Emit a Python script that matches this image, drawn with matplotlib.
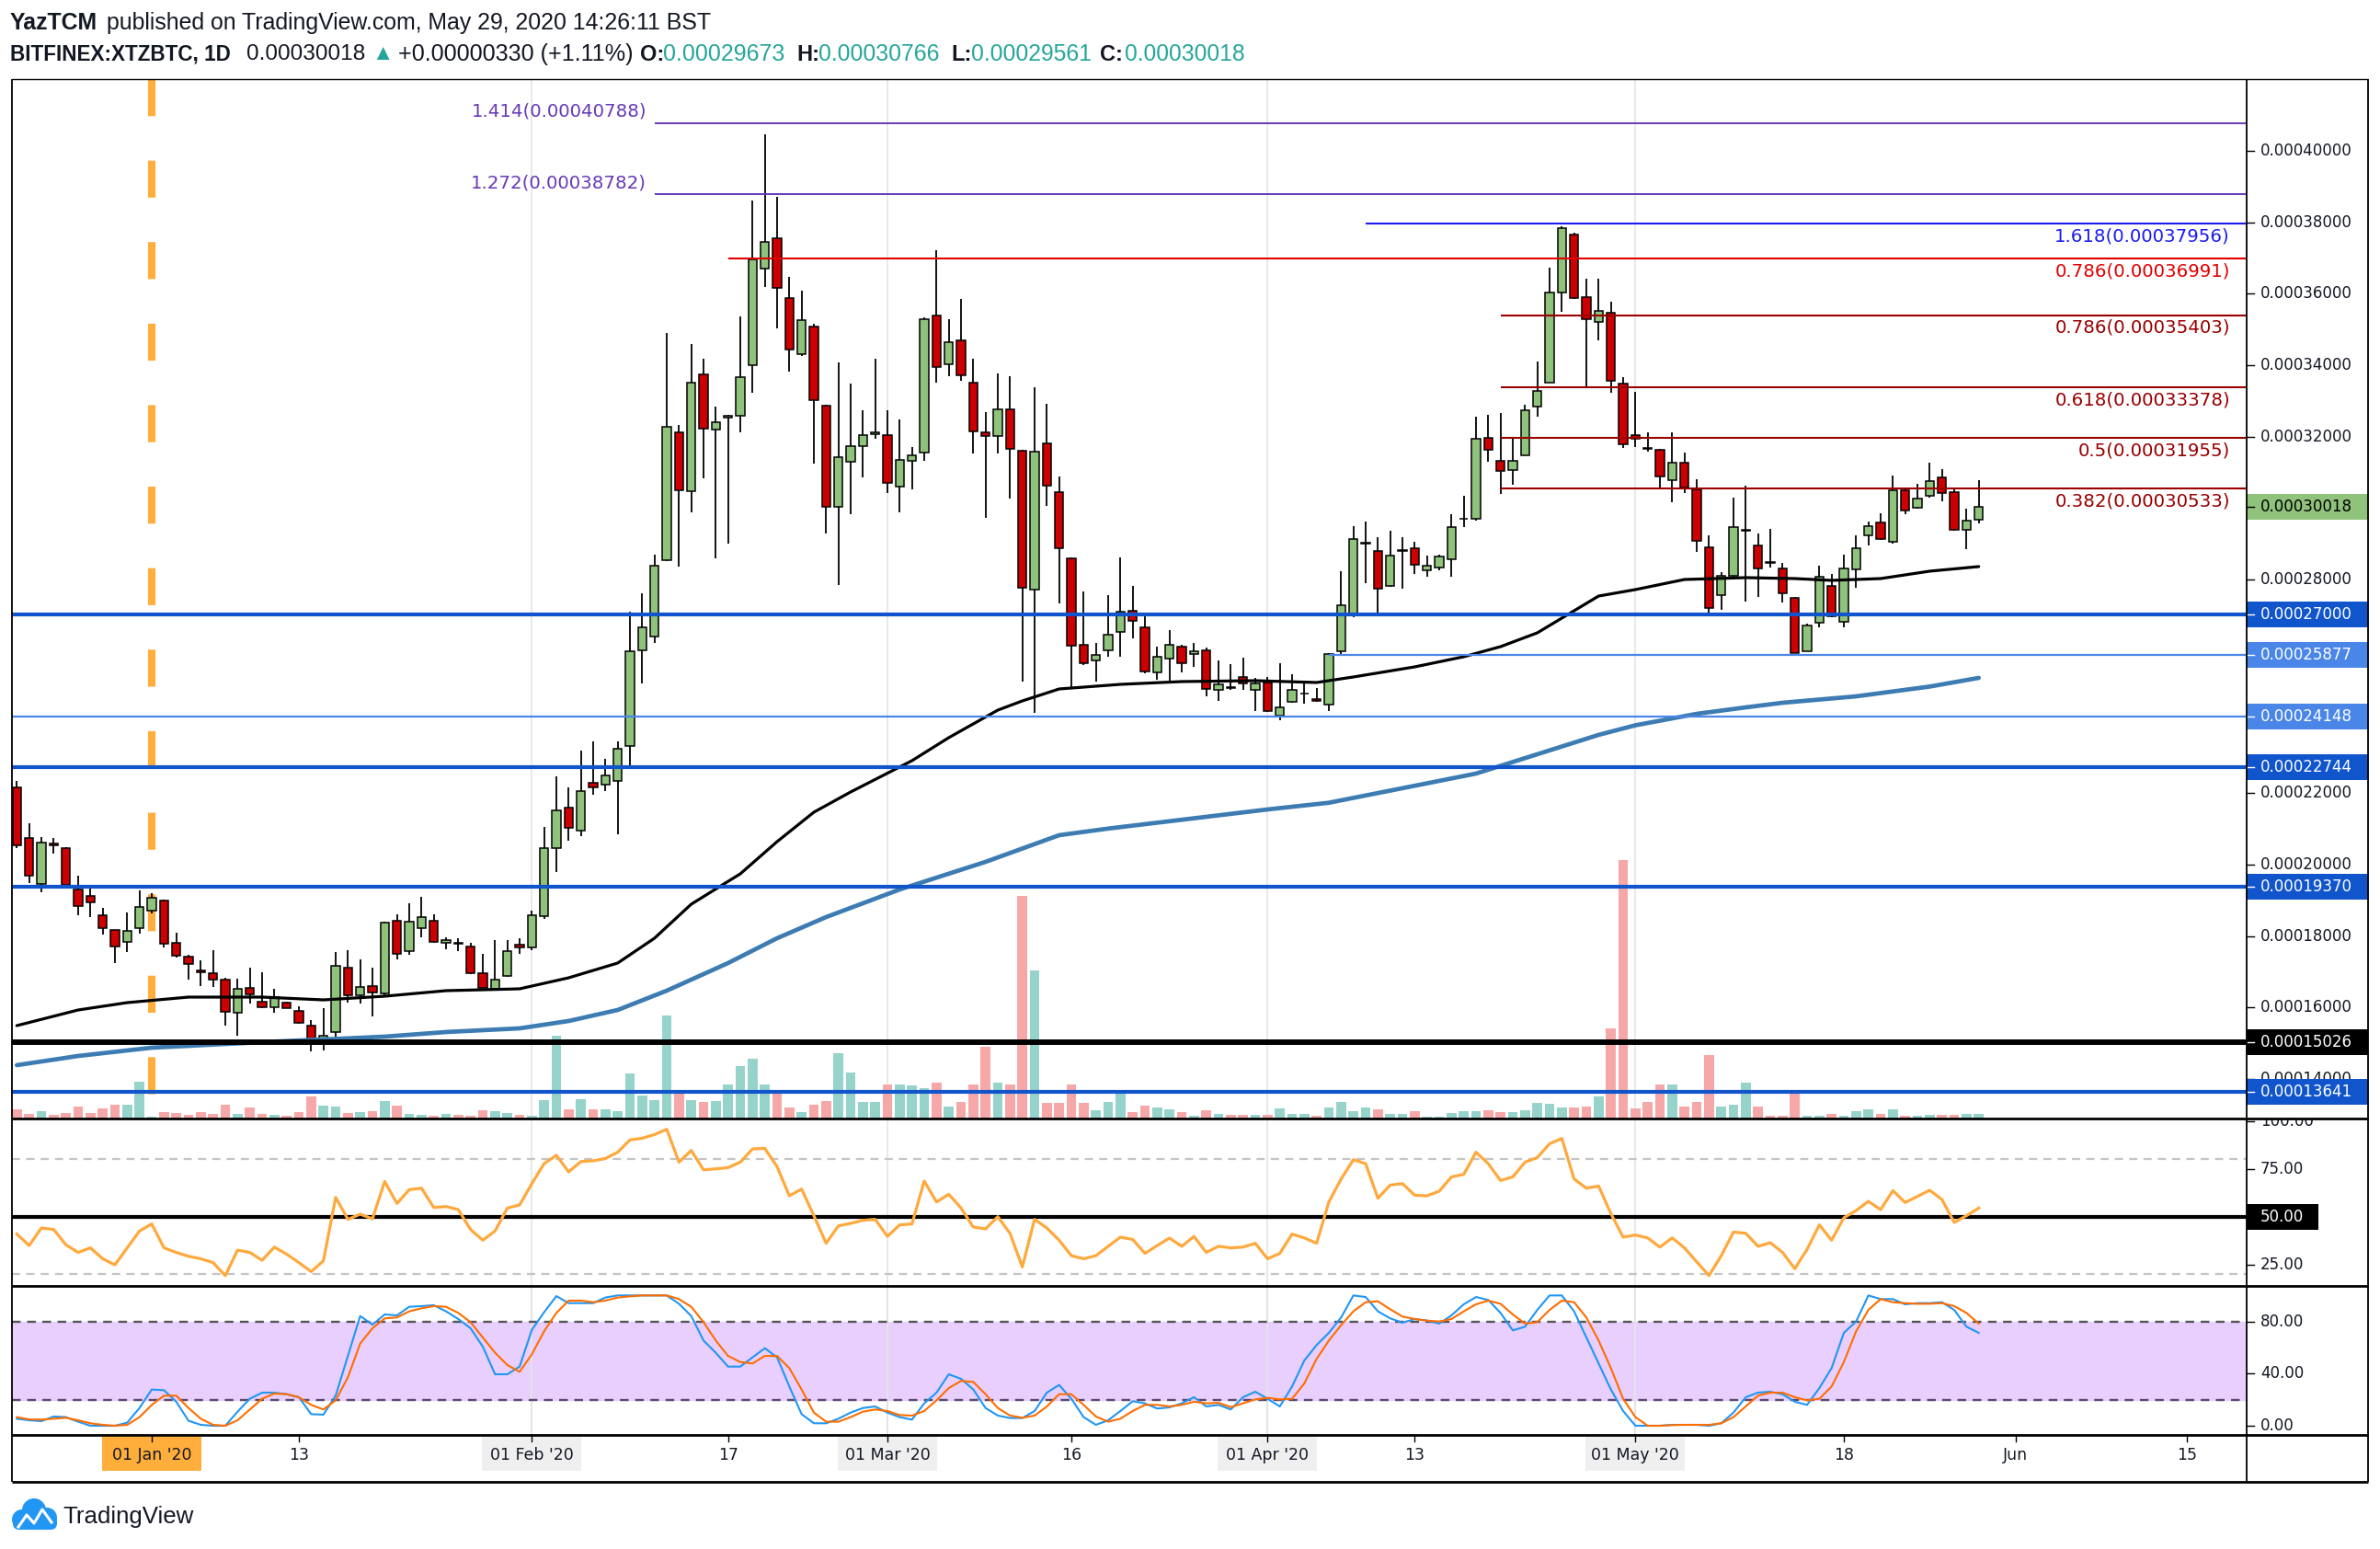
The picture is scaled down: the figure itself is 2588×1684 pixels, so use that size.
import numpy as np
import pandas as pd
import matplotlib
matplotlib.use("Agg")
import matplotlib.pyplot as plt
from matplotlib.patches import Rectangle, Circle, FancyBboxPatch

W, H = 2588, 1684
fig = plt.figure(figsize=(W / 100, H / 100), dpi=100)
plt.rcParams['font.family'] = ['DejaVu Sans']

# ---------------- data (prices in satoshi, 1e-8 BTC) ----------------
dates = pd.date_range("2019-12-21", "2020-05-29", freq="D")

open_s = [22171, 20759, 19449, 20605, 20476, 19304, 19124, 18577, 18166, 17824, 18209, 18705,
          19004, 17806, 17422, 17028, 16968, 16780, 15839, 16557, 16155, 16010,
          16138, 15898, 15496, 15068, 15316, 17113, 16352, 16609, 16386, 18423,
          17584, 18234, 18423, 17806, 17806, 17712, 16968, 16523, 16882, 17765,
          17680, 18564, 20471, 21598, 20948, 22292, 22248, 22350, 23332, 26006,
          26396, 28535, 32119, 30456, 33736, 32190, 32523, 32581, 33997, 36699,
          37566, 35875, 34315, 35080, 32869, 30023, 31280, 31742, 32060, 32046,
          30586, 31309, 31540, 35398, 34026, 34705, 33520, 32119, 32003, 32771,
          31596, 27704, 31820, 30444, 28577, 26172, 25725, 26004, 26530, 27112,
          26642, 25378, 25781, 26116, 25892, 26004, 24908, 24975, 25266, 24886,
          25110, 24181, 24573, 24785, 24640, 24495, 25971, 27000, 29002, 28800,
          27816, 28789, 28879, 28241, 28320, 28565, 29684, 29695, 31954, 31327,
          31070, 31484, 32828, 33519, 36023, 37652, 35903, 35222, 35470, 33473,
          32046, 31668, 31622, 30775, 31254, 30517, 28888, 27553, 28105, 29357,
          28934, 28473, 28289, 27488, 25988, 26770, 27810, 26816, 28271, 29228,
          29596, 29044, 30499, 29993, 30333, 30849, 30434, 29375, 29673]

high_s = [22359, 21161, 20776, 20750, 20493, 19689, 19432, 18791, 18180, 18662, 19278, 19193,
          19021, 18080, 17464, 17310, 17593, 16840, 16797, 17122, 16994, 16514,
          16155, 16027, 15642, 15984, 17541, 17610, 17353, 17122, 18400, 18619,
          18927, 19107, 18619, 17969, 17935, 17798, 17498, 17892, 17892, 17950,
          18700, 21064, 22465, 22176, 23188, 23448, 22971, 23448, 27089, 27595,
          28679, 34892, 32335, 34603, 34170, 32826, 32610, 35355, 38621, 40470,
          38722, 36482, 36092, 35153, 32900, 34069, 33491, 32725, 34170, 32725,
          32465, 31714, 35350, 37233, 35297, 35861, 34170, 32696, 33765, 33688,
          31620, 33386, 32927, 30892, 28600, 27648, 26217, 27559, 28621, 27816,
          27000, 26116, 26564, 26172, 26217, 26083, 25714, 25613, 25803, 25244,
          25266, 25635, 25333, 25110, 24942, 25920, 28230, 29494, 29628, 29181,
          29360, 29181, 29046, 28655, 28677, 29829, 30333, 32547, 32603, 32662,
          31926, 32893, 34089, 36741, 37880, 37700, 36410, 36410, 35765, 33675,
          33240, 32128, 31650, 32128, 31558, 30803, 29228, 28197, 30287, 30609,
          29274, 29421, 28455, 27510, 26752, 28381, 28151, 28676, 29237, 29624,
          29836, 30913, 30520, 30683, 31263, 31095, 30572, 29965, 30766]

low_s = [20476, 19475, 19218, 20322, 19407, 18577, 18534, 18038, 17242, 17550, 18063, 18637,
         17678, 17396, 16780, 16600, 16566, 15496, 15214, 16112, 15984, 15855,
         15967, 15530, 14760, 14786, 15128, 16138, 16095, 15753, 16326, 17353,
         17481, 17969, 17806, 17635, 17567, 16925, 16540, 16497, 16865, 17500,
         17600, 18492, 19792, 20659, 20803, 21960, 22061, 20847, 22783, 25066,
         26223, 28506, 28361, 29864, 30818, 28578, 28997, 32119, 33231, 36193,
         35037, 33809, 34250, 31237, 29286, 27841, 29835, 30847, 31930, 30413,
         29864, 30529, 31323, 33520, 33693, 33549, 31526, 29720, 31526, 30254,
         25132, 24260, 30053, 27313, 24942, 25600, 25132, 25826, 25826, 26340,
         25355, 25188, 25132, 25378, 25546, 24718, 24595, 24908, 24886, 24293,
         24270, 24047, 24550, 24517, 24573, 24315, 25892, 26944, 27895, 27056,
         27783, 27727, 28152, 28073, 28241, 28073, 29460, 29650, 31283, 30379,
         30655, 31465, 32552, 33500, 35489, 35860, 33380, 34688, 33215, 31677,
         31696, 31576, 30572, 30149, 30407, 28768, 27065, 27139, 28059, 27368,
         27507, 28335, 27341, 25920, 25970, 26650, 26930, 26650, 27755, 28952,
         29090, 28998, 29827, 29970, 30296, 30177, 29370, 28842, 29561]

close_s = [20545, 19689, 20630, 20536, 19432, 18850, 18953, 18209, 17695, 18149, 18808, 19064,
           17781, 17439, 17207, 16985, 16771, 15873, 16523, 16369, 16010, 16283,
           15984, 15556, 15068, 15214, 17165, 16352, 16583, 16429, 18380, 17498,
           18405, 18525, 17824, 17884, 17772, 16951, 16557, 16780, 17584, 17680,
           18582, 20471, 21526, 21020, 22061, 22176, 22494, 23246, 25977, 26656,
           28390, 32263, 30485, 33520, 32219, 32407, 32581, 33664, 36959, 37465,
           36164, 34430, 35254, 33014, 30023, 31425, 31742, 32031, 32104, 30702,
           31352, 31468, 35297, 33953, 34647, 33708, 32147, 32003, 32766, 31641,
           27760, 31585, 30612, 28856, 26138, 25635, 25882, 26452, 27089, 26832,
           25411, 25826, 26172, 25635, 25993, 24931, 25054, 24953, 25076, 25076,
           24293, 24405, 24908, 24808, 24595, 25892, 27279, 29136, 29024, 27727,
           28655, 28811, 28398, 28375, 28633, 29471, 29706, 31932, 31619, 31024,
           31309, 32727, 33279, 36023, 37836, 35885, 35286, 35516, 33565, 31769,
           31926, 31650, 30867, 31254, 30572, 29071, 27184, 28087, 29458, 29375,
           28289, 28455, 27599, 25942, 26697, 28077, 26954, 28289, 28860, 29486,
           29118, 30499, 29919, 30269, 30757, 30407, 29394, 29652, 30018]

volume = [30, 15, 23, 12, 18, 38, 18, 33, 45, 45, 120, 7,
          20, 17, 12, 20, 15, 45, 15, 35, 15, 12,
          8, 20, 72, 42, 40, 18, 22, 25, 58, 42,
          15, 13, 8, 15, 12, 10, 27, 25, 17, 12,
          8, 60, 270, 30, 63, 30, 30, 25, 147, 75,
          60, 337, 93, 60, 55, 57, 110, 172, 195, 111,
          80, 35, 20, 45, 57, 213, 150, 55, 55, 110,
          110, 108, 100, 117, 40, 55, 110, 235, 117, 110,
          727, 483, 50, 50, 112, 50, 27, 53, 93, 20,
          43, 37, 30, 22, 10, 27, 15, 12, 12, 12,
          12, 33, 15, 15, 8, 37, 55, 25, 37, 30,
          15, 15, 25, 7, 7, 17, 23, 23, 27, 20,
          20, 27, 50, 48, 35, 37, 40, 73, 293, 843,
          33, 55, 111, 110, 40, 55, 207, 40, 45, 117,
          40, 10, 10, 93, 10, 10, 15, 10, 23, 30,
          15, 30, 10, 10, 13, 13, 13, 15, 15]

rsi = [40.9, 34.9, 44.1, 43.3, 35.3, 31.3, 33.7, 28.0, 24.8, 33.7, 42.5, 46.2,
       33.7, 31.3, 29.3, 28.0, 26.0, 19.2, 32.5, 31.3, 27.2, 34.1,
       30.4, 26.0, 21.3, 26.9, 60.1, 48.6, 51.3, 48.9, 68.4, 56.9,
       64.1, 64.9, 54.8, 55.3, 53.7, 43.3, 37.7, 42.5, 54.5, 56.1,
       67.3, 77.7, 82.1, 73.4, 78.8, 79.2, 80.4, 83.7, 90.1, 91.0,
       92.9, 95.7, 78.5, 84.6, 74.5, 75.0, 75.6, 78.5, 85.4, 85.7,
       76.1, 60.9, 64.4, 50.5, 36.1, 45.2, 46.5, 48.1, 48.6, 39.7,
       45.7, 46.2, 68.6, 57.7, 61.7, 54.5, 44.6, 43.6, 50.0, 41.2,
       23.7, 48.6, 44.1, 37.7, 29.6, 28.0, 29.6, 34.5, 39.3, 38.1,
       30.8, 34.9, 38.8, 34.5, 39.7, 31.3, 34.5, 33.7, 34.1, 36.1,
       28.0, 30.8, 40.9, 38.9, 36.1, 57.7, 69.7, 79.8, 77.7, 59.6,
       66.5, 67.3, 61.2, 60.9, 63.3, 70.8, 72.1, 83.7, 77.7, 68.9,
       70.8, 78.5, 80.9, 88.1, 90.9, 69.7, 64.9, 66.0, 51.6, 39.3,
       40.4, 38.9, 34.1, 38.9, 33.7, 26.4, 19.2, 29.6, 42.0, 41.3,
       34.5, 36.4, 31.3, 22.8, 32.9, 45.7, 37.7, 49.4, 53.2, 58.0,
       53.7, 63.6, 57.4, 60.6, 63.8, 59.0, 47.0, 50.5, 54.5]

stoch_k = [5.4, 4.2, 3.5, 7.1, 6.6, 3.1, 0, 0, 0, 2.4, 13.6, 27.8,
           27.3, 18.4, 3.8, 0.7, 0, 0, 10.8, 20.7, 25.4, 25.4,
           24.2, 21.9, 8.9, 8.5, 23.1, 53.6, 84.2, 77.6, 85.4, 84.7,
           91.3, 91.8, 92.5, 87.8, 81.9, 74.8, 60.7, 39.5, 39.5, 45.4,
           73.6, 87.1, 99.5, 94.1, 94.1, 94.1, 98.4, 100, 100, 100,
           100, 100, 93.6, 84.2, 65.4, 56.0, 45.4, 45.4, 52.5, 59.5,
           52.5, 30.1, 8.9, 1.9, 1.9, 5.4, 10.1, 13.6, 14.8, 10.1,
           6.6, 4.7, 17.2, 25.4, 39.5, 36.0, 27.8, 13.6, 7.8, 5.9,
           5.9, 11.3, 25.4, 31.3, 20.7, 6.6, 0.7, 4.2, 11.3, 18.8,
           17.2, 13.2, 14.1, 17.2, 21.9, 14.8, 16.0, 12.5, 21.9, 26.1,
           20.7, 14.8, 30.1, 50.1, 61.9, 71.3, 83.1, 100, 98.8, 87.8,
           82.4, 79.1, 81.9, 80.7, 78.4, 84.7, 93.2, 98.8, 96.5, 86.6,
           73.2, 76.0, 88.9, 100, 100, 87.8, 67.8, 47.8, 27.8, 11.3,
           0, 0, 0, 0.7, 0.7, 0.7, 0, 1.9, 10.1, 21.9,
           25.4, 26.1, 24.2, 18.4, 16.0, 28.9, 44.2, 71.3, 80.0, 100,
           97.2, 97.2, 93.2, 94.1, 94.1, 94.8, 88.9, 76.0, 71.3]

stoch_d = [6.6, 4.9, 4.7, 5.4, 6.1, 4.2, 1.9, 0.7, 0, 0.7, 6.6, 16.0,
           23.1, 23.1, 13.6, 5.4, 0.7, 0, 4.2, 12.5, 20.7, 24.7,
           24.2, 21.9, 16.0, 12.5, 19.5, 37.2, 63.1, 74.8, 82.4, 83.1,
           87.8, 90.1, 91.8, 91.3, 86.6, 79.5, 67.8, 56.0, 46.6, 41.4,
           54.8, 72.5, 86.6, 96.0, 96.0, 94.8, 96.0, 98.4, 99.3, 100,
           100, 100, 97.2, 91.3, 79.5, 65.4, 53.6, 48.9, 47.8, 53.6,
           53.6, 44.2, 27.8, 10.1, 3.1, 3.1, 6.6, 10.8, 12.5, 11.3,
           8.2, 7.8, 11.3, 19.5, 28.9, 34.4, 33.6, 24.2, 13.6, 7.8,
           6.1, 7.8, 14.8, 24.2, 24.2, 16.0, 7.1, 3.1, 5.4, 11.3,
           16.0, 16.0, 14.8, 16.0, 18.4, 17.2, 17.6, 14.3, 17.2, 20.2,
           21.4, 20.2, 20.7, 32.5, 51.3, 65.4, 77.2, 87.8, 94.8, 95.5,
           89.4, 83.8, 81.9, 80.7, 80.0, 81.9, 87.8, 93.2, 96.0, 93.6,
           85.4, 78.4, 79.5, 88.9, 96.0, 94.8, 83.1, 65.4, 44.2, 20.7,
           6.6, 0, 0, 0.5, 0.7, 0.7, 0.7, 1.9, 6.6, 14.8,
           23.1, 25.4, 25.4, 21.9, 19.5, 20.7, 30.1, 48.9, 72.5, 88.9,
           97.2, 94.8, 94.1, 93.6, 93.6, 94.1, 91.8, 86.6, 78.4]

# moving averages read at sample dates
ma100_dates = ['2019-12-21', '2019-12-26', '2019-12-30', '2020-01-04', '2020-01-10', '2020-01-15',
               '2020-01-20', '2020-01-25', '2020-01-31', '2020-02-04', '2020-02-08', '2020-02-11',
               '2020-02-14', '2020-02-18', '2020-02-21', '2020-02-24', '2020-02-27', '2020-03-03',
               '2020-03-06', '2020-03-10', '2020-03-12', '2020-03-15', '2020-03-20', '2020-03-25',
               '2020-03-31', '2020-04-05', '2020-04-08', '2020-04-13', '2020-04-17', '2020-04-20',
               '2020-04-23', '2020-04-26', '2020-04-28', '2020-05-01', '2020-05-05', '2020-05-10',
               '2020-05-14', '2020-05-17', '2020-05-21', '2020-05-25', '2020-05-29']
ma100_s = [15489, 15927, 16133, 16288, 16288, 16210, 16313, 16468, 16520, 16829, 17242, 17938,
           18892, 19743, 20645, 21470, 22037, 22914, 23559, 24331, 24589, 24924, 25053, 25131,
           25156, 25105, 25260, 25543, 25827, 26110, 26497, 27116, 27528, 27709, 27992, 28044,
           28018, 27967, 28018, 28225, 28354]
ma200_dates = ['2019-12-21', '2019-12-26', '2020-01-01', '2020-01-10', '2020-01-15', '2020-01-20',
               '2020-01-25', '2020-01-31', '2020-02-04', '2020-02-08', '2020-02-12', '2020-02-17',
               '2020-02-21', '2020-02-25', '2020-03-02', '2020-03-09', '2020-03-15', '2020-03-19',
               '2020-04-01', '2020-04-06', '2020-04-14', '2020-04-18', '2020-04-23', '2020-04-28',
               '2020-05-01', '2020-05-06', '2020-05-10', '2020-05-13', '2020-05-19', '2020-05-25',
               '2020-05-29']
ma200_s = [14380, 14638, 14870, 15025, 15102, 15180, 15309, 15412, 15618, 15927, 16468, 17242,
           17938, 18531, 19304, 20078, 20825, 21011, 21547, 21735, 22279, 22553, 23094, 23637,
           23906, 24227, 24408, 24537, 24717, 24991, 25234]

# drawn levels
support_thick = [0.00027000, 0.00022744, 0.00019370, 0.00013641]
support_thin = [0.00024148]
support_thin_late = 0.00025877
black_level = 0.00015026
ext_levels = [(1.414, 0.00040788), (1.272, 0.00038782)]
fib_levels = [('1.618', 0.00037956, '#1c1cf0', '2020-04-09'),
              ('0.786', 0.00036991, '#e00000', '2020-02-17'),
              ('0.786', 0.00035403, '#990000', '2020-04-20'),
              ('0.618', 0.00033378, '#990000', '2020-04-20'),
              ('0.5', 0.00031955, '#990000', '2020-04-20'),
              ('0.382', 0.00030533, '#990000', '2020-04-20')]
price_ticks = [0.00014, 0.00016, 0.00018, 0.00020, 0.00022, 0.00028,
               0.00032, 0.00034, 0.00036, 0.00038, 0.00040]

tick_dates = ['2020-01-01', '2020-01-13', '2020-02-01', '2020-02-17', '2020-03-01', '2020-03-16',
              '2020-04-01', '2020-04-13', '2020-05-01', '2020-05-18', '2020-06-01', '2020-06-15']
tick_labels = ["01 Jan '20", "13", "01 Feb '20", "17", "01 Mar '20", "16",
               "01 Apr '20", "13", "01 May '20", "18", "Jun", "15"]

SAT = 1e-8
o = np.array(open_s) * SAT
h = np.array(high_s) * SAT
l = np.array(low_s) * SAT
c = np.array(close_s) * SAT
t0 = pd.Timestamp('2020-01-01')
x = np.array((dates - t0).days, dtype=float)


def dnum(s):
    return (pd.Timestamp(s) - t0).days


XL = (-11.40, 170.85)
PY = (12885 * SAT, 42016 * SAT)
GREEN, RED = '#8fc27a', '#cc0000'
VOL_UP, VOL_DN = '#96d3cb', '#f5a8a7'
BLUE, LBLUE = '#1155cc', '#4a86e8'
TEAL = '#26a69a'
MONTHS = ['2020-02-01', '2020-03-01', '2020-04-01', '2020-05-01']


def px_axes(x0, y0, x1, y1):
    return fig.add_axes([x0 / W, 1 - y1 / H, (x1 - x0) / W, (y1 - y0) / H])


def clean(a):
    for s in a.spines.values():
        s.set_visible(False)
    a.set_xticks([])
    a.set_yticks([])


# ---------------- main pane ----------------
ax_v = px_axes(13, 86, 2443, 1216)
ax = px_axes(13, 86, 2443, 1216)
ax.patch.set_alpha(0)
for a in (ax_v, ax):
    clean(a)
    a.set_xlim(*XL)
ax.set_ylim(*PY)
ax_v.set_ylim(0, 3390)

up = c >= o
ax_v.bar(x, volume, width=0.8, color=np.where(up, VOL_UP, VOL_DN), zorder=2)
for m in MONTHS:
    ax_v.axvline(dnum(m), color='#e9e9e9', lw=1.4, zorder=1)

# orange dashed marker at 1 Jan
ax.plot([0, 0], [PY[1], PY[0]], color='#ffae3c', lw=5.8, ls=(0, (5, 6)),
        solid_capstyle='butt', zorder=1)

# candles
ax.vlines(x, l, h, color='black', lw=1.3, zorder=3)
body_lo = np.minimum(o, c)
body_h = np.maximum(np.abs(c - o), 15 * SAT)
ax.bar(x, body_h, bottom=body_lo, width=0.68, color=np.where(up, GREEN, RED),
       edgecolor='black', linewidth=1.1, zorder=4)

# moving averages
ax.plot([dnum(d) for d in ma200_dates], np.array(ma200_s) * SAT, color='#3d7cb3', lw=3.4,
        zorder=5, solid_capstyle='round', solid_joinstyle='round')
ax.plot([dnum(d) for d in ma100_dates], np.array(ma100_s) * SAT, color='black', lw=2.3,
        zorder=5, solid_capstyle='round', solid_joinstyle='round')

# support / resistance lines
for p in support_thick:
    ax.hlines(p, XL[0], XL[1], color=BLUE, lw=3.0, zorder=6)
for p in support_thin:
    ax.hlines(p, XL[0], XL[1], color=LBLUE, lw=1.6, zorder=6)
ax.hlines(support_thin_late, dnum('2020-04-06'), XL[1], color=LBLUE, lw=1.6, zorder=6)
ax.hlines(black_level, XL[0], XL[1], color='black', lw=4.3, zorder=6)

ext_start = dnum('2020-02-11')
for lvl, p in ext_levels:
    ax.hlines(p, ext_start, XL[1], color='#673ab7', lw=1.4, zorder=6)
    ax.annotate(f'{lvl}({p:.8f})', (ext_start, p), xytext=(-6, 9), textcoords='offset points',
                ha='right', va='center', color='#673ab7', fontsize=14.2, zorder=7)
for lvl, p, col, start in fib_levels:
    ax.hlines(p, dnum(start), XL[1], color=col, lw=1.5, zorder=6)
    ax.annotate(f'{lvl}({p:.8f})', (169.5, p), xytext=(0, -10), textcoords='offset points',
                ha='right', va='center', color=col, fontsize=14.2, zorder=7)

# ---------------- price scale ----------------
axp = px_axes(2443, 86, 2575, 1216)
clean(axp)
axp.set_xlim(0, 1)
axp.set_ylim(*PY)
ppx = (PY[1] - PY[0]) / 1130.0
for p in price_ticks:
    axp.plot([0, 0.06], [p, p], color='black', lw=1.0)
    axp.text(0.114, p, f'{p:.8f}', fontsize=12, va='center', ha='left', color='#131722')
axis_boxes = [(0.00030018, '#8fc27a', 'black'), (0.00027000, BLUE, 'white'),
              (0.00025877, LBLUE, 'white'), (0.00024148, LBLUE, 'white'),
              (0.00022744, BLUE, 'white'), (0.00019370, BLUE, 'white'),
              (0.00015026, 'black', 'white'), (0.00013641, BLUE, 'white')]
for p, fc, tc in axis_boxes:
    axp.add_patch(Rectangle((0, p - 14 * ppx), 1, 28 * ppx, facecolor=fc, edgecolor='none', zorder=3))
    axp.plot([0, 0.06], [p, p], color=tc, lw=1.0, zorder=4)
    axp.text(0.114, p, f'{p:.8f}', fontsize=12, va='center', ha='left', color=tc, zorder=5)

# ---------------- RSI pane ----------------
ax_r = px_axes(13, 1216, 2443, 1398)
clean(ax_r)
ax_r.set_xlim(*XL)
ax_r.set_ylim(13.8, 101.3)
for m in MONTHS:
    ax_r.axvline(dnum(m), color='#e9e9e9', lw=1.4, zorder=1)
ax_r.axhline(80, color='#c4c4c4', lw=1.6, ls=(0, (4, 3)), zorder=2)
ax_r.axhline(20, color='#c4c4c4', lw=1.6, ls=(0, (4, 3)), zorder=2)
ax_r.axhline(50, color='black', lw=3.0, zorder=3)
ax_r.plot(x, rsi, color='#ffa93d', lw=2.3, zorder=4)

axrr = px_axes(2443, 1216, 2575, 1398)
clean(axrr)
axrr.set_xlim(0, 1)
axrr.set_ylim(13.8, 101.3)
for v in (100, 75, 25):
    axrr.plot([0, 0.06], [v, v], color='black', lw=1.0)
    axrr.text(0.114, v, f'{v:.2f}', fontsize=12, va='center', ha='left', color='#131722', clip_on=True)
axrr.add_patch(Rectangle((0, 50 - 6.7), 0.59, 13.4, facecolor='black', edgecolor='none'))
axrr.text(0.114, 50, '50.00', fontsize=12, va='center', ha='left', color='white')

# ---------------- Stoch RSI pane ----------------
ax_s = px_axes(13, 1398, 2443, 1560)
clean(ax_s)
ax_s.set_xlim(*XL)
ax_s.set_ylim(-7.06, 107.3)
ax_s.axhspan(20, 80, color='#e8cffd', zorder=0)
for m in MONTHS:
    ax_s.axvline(dnum(m), color='#e4e4e4', lw=1.4, zorder=1)
ax_s.axhline(80, color='#555555', lw=1.7, ls=(0, (4, 3)), zorder=2)
ax_s.axhline(20, color='#5a4a6a', lw=1.7, ls=(0, (4, 3)), zorder=2)
ax_s.plot(x, stoch_k, color='#2196f3', lw=1.5, zorder=3)
ax_s.plot(x, stoch_d, color='#ff6d00', lw=1.5, zorder=4)

axsr = px_axes(2443, 1398, 2575, 1560)
clean(axsr)
axsr.set_xlim(0, 1)
axsr.set_ylim(-7.06, 107.3)
for v in (80, 40, 0):
    axsr.plot([0, 0.06], [v, v], color='black', lw=1.0)
    axsr.text(0.114, v, f'{v:.2f}', fontsize=12, va='center', ha='left', color='#131722')

# ---------------- date axis ----------------
ax_d = px_axes(13, 1560, 2443, 1611)
clean(ax_d)
ax_d.set_xlim(*XL)
ax_d.set_ylim(0, 1)
for d, lab in zip(tick_dates, tick_labels):
    xd = dnum(d)
    ax_d.plot([xd, xd], [1, 0.86], color='black', lw=1.0)
    if lab.startswith('01 '):
        fc = '#ffae3c' if 'Jan' in lab else '#efefef'
        ax_d.add_patch(Rectangle((xd - 4.05, 0.235), 8.1, 0.726, facecolor=fc, edgecolor='none'))
    ax_d.text(xd, 0.57, lab, fontsize=12.5, ha='center', va='center', color='#131722')

# ---------------- overlay: frame, header, logo ----------------
bg = fig.add_axes([0, 0, 1, 1])
bg.set_xlim(0, W)
bg.set_ylim(H, 0)
bg.axis('off')
bg.patch.set_alpha(0)
fr = dict(color='black', solid_capstyle='butt')
bg.plot([13, 2575], [86, 86], lw=1.0, **fr)
bg.plot([13, 13], [86, 1611], lw=1.3, **fr)
bg.plot([2575, 2575], [86, 1611], lw=1.3, **fr)
bg.plot([2443, 2443], [86, 1611], lw=1.3, **fr)
for yy in (1216, 1398, 1560, 1611):
    bg.plot([13, 2575], [yy, yy], lw=2.0, **fr)

HF = ['Liberation Sans', 'DejaVu Sans']
rend = fig.canvas.get_renderer()


def fit(t, width_px):
    t.set_fontsize(t.get_fontsize() * width_px / t.get_window_extent(rend).width)
    return t.get_fontsize()


t1a = bg.text(11, 25, 'YazTCM', fontsize=17, fontweight='bold', family=HF, va='center', color='#131722')
t1b = bg.text(116, 25, 'published on TradingView.com, May 29, 2020 14:26:11 BST', fontsize=17,
              family=HF, va='center', color='#131722')
t1a.set_fontsize(fit(t1b, 661))

# second header line: (text, left px, right px, weight, colour)
segments = [("BITFINEX:XTZBTC, 1D", 11, 252, 'bold', '#131722'),
            ("0.00030018", 268, 397, 'normal', '#131722'),
            ("\u25b2", 404, 420, 'normal', TEAL),
            ("+0.00000330 (+1.11%)", 433, 688, 'normal', '#131722'),
            ("O:", 696, 719, 'bold', '#131722'), ("0.00029673", 721, 853, 'normal', TEAL),
            ("H:", 866, 887, 'bold', '#131722'), ("0.00030766", 890, 1021, 'normal', TEAL),
            ("L:", 1034, 1053, 'bold', '#131722'), ("0.00029561", 1056, 1187, 'normal', TEAL),
            ("C:", 1196, 1220, 'bold', '#131722'), ("0.00030018", 1223, 1353, 'normal', TEAL)]
for txt, x0, x1, wt, col in segments:
    t = bg.text(x0, 59, txt, fontsize=17, fontweight=wt, family=HF, va='center', color=col)
    if len(txt) > 3:
        fit(t, x1 - x0)

# TradingView logo
logo_blue = '#2196f3'
for cx, cy, r in [(24, 1652, 11), (37, 1642, 13), (51, 1650, 11)]:
    bg.add_patch(Circle((cx, cy), r, facecolor=logo_blue, edgecolor='none'))
bg.add_patch(FancyBboxPatch((14, 1648), 48, 15, boxstyle='round,pad=0,rounding_size=7',
                            facecolor=logo_blue, edgecolor='none'))
bg.plot([20, 29, 37, 46, 56], [1660, 1647, 1656, 1641, 1655], color='white', lw=2.2)
tl = bg.text(68, 1649, 'TradingView', fontsize=18, family=HF, va='center', color='#131722')
fit(tl, 142)

fig.savefig('out.png', dpi=100)
